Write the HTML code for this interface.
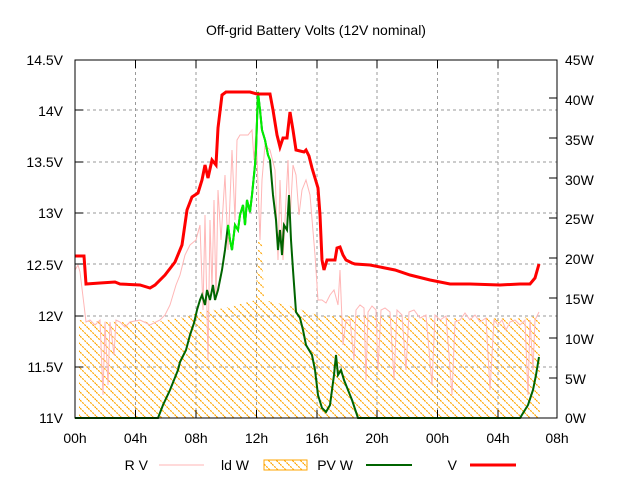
<!DOCTYPE html>
<html><head><meta charset="utf-8"><style>
html,body{margin:0;padding:0;background:#fff}
svg{display:block;font-family:"Liberation Sans",sans-serif}
</style></head><body>
<svg width="640" height="480" viewBox="0 0 640 480">
<defs>
<pattern id="h" patternUnits="userSpaceOnUse" width="8" height="8">
<path d="M-2,-2 L10,10 M-2,6 L2,10 M6,-2 L10,2" stroke="#ffa500" stroke-width="1.2" stroke-dasharray="2,1"/>
</pattern>
</defs>
<rect width="640" height="480" fill="#fff"/>
<text x="316" y="35" font-size="14" text-anchor="middle">Off-grid Battery Volts (12V nominal)</text>
<g stroke="#999" stroke-width="1" stroke-dasharray="3,3" fill="none">
<path d="M75,110H557M75,162H557M75,213H557M75,264H557M75,316H557M75,367H557"/>
<path d="M135.5,60V418M196,60V418M256.5,60V418M317,60V418M377,60V418M437.5,60V418M498,60V418"/>
</g>
<!-- Id W hatch -->
<path d="M79,418V320L90,321L120,322L160,321L180,318L200,312L225,308L256,300L258,240L262,242L264,300L290,306L320,316L360,316L400,317L440,318L480,318L520,318L540,316V418Z" fill="url(#h)"/>
<!-- R V pink -->
<polyline fill="none" stroke="#ffb6b6" stroke-width="1" points="75,270 78,265 80,272 84,305 86,322 90,320 95,325 100,320 103,395 105,322 108,385 110,322 114,355 116,320 120,322 125,327 130,322 140,320 150,325 160,320 165,315 170,305 176,285 180,275 185,255 190,245 196,240 200,225 203,310 205,215 208,360 210,220 212,290 214,200 216,300 218,190 221,240 225,175 228,250 232,150 235,220 237,140 240,135 248,135 252,130 254,160 256,130 260,240 262,180 265,145 270,150 275,170 278,260 280,180 283,260 286,200 288,160 290,220 293,165 296,175 299,215 302,190 306,180 310,195 315,255 318,300 322,300 326,303 330,295 334,290 338,305 340,270 343,345 346,320 350,320 354,360 356,310 360,305 364,308 366,380 368,312 372,306 376,310 378,370 381,310 385,308 390,312 394,380 397,310 402,315 406,370 409,312 414,310 420,318 426,315 432,385 435,315 440,320 446,316 452,395 455,322 460,320 465,313 470,320 475,315 480,322 486,318 490,390 494,320 498,325 502,320 506,330 510,322 515,320 520,325 525,320 528,395 530,320 533,370 535,320 539,312"/>
<!-- PV W green -->
<polyline fill="none" stroke="#006400" stroke-width="2" points="75,418 158,418 163,405 170,390 178,370 180,362 186,350 190,335 194,323 197,310 200,300 202,295 205,305 207,290 210,300 213,285 215,300 218,290 222,270 225,250 228,225 230,240 232,250 235,225 238,230 240,215 243,205 245,225 247,200 250,212 252,195 255,165 256,150 258,92 260,110 262,130 265,140 268,155 270,160 273,195 276,220 278,250 280,230 282,255 284,225 287,230 289,195 291,240 293,270 296,312 300,318 303,330 306,345 309,350 312,355 315,370 318,395 322,408 326,412 330,405 334,375 336,355 338,375 341,370 344,380 348,390 352,400 358,418 520,418 528,405 533,390 536,375 539,357"/>
<polyline fill="none" stroke="#00ee00" stroke-width="2" points="228,225 230,240 232,250 235,225 238,230 240,215 243,205 245,225 247,200 250,212 252,195 255,165 256,150 258,92 260,110 262,130 265,140 268,155 270,160"/>
<!-- V red -->
<polyline fill="none" stroke="#ff0000" stroke-width="3" points="75,256 84,256 86,284 100,283 115,282 120,284 140,285 150,288 155,285 165,275 175,262 182,245 187,210 192,197 198,193 202,180 205,165 208,178 212,160 216,165 218,128 222,95 226,92 250,92 257,94 270,94 273,110 277,135 280,147 283,138 287,138 290,112 293,130 296,150 304,152 306,150 309,156 312,168 315,178 318,188 320,215 322,260 324,270 327,260 335,260 337,248 340,247 343,255 346,260 352,263 355,264 370,265 385,268 395,270 410,275 430,280 450,284 470,284 500,285 520,284 530,284 535,278 539,264"/>
<!-- frame -->
<rect x="75" y="60" width="482" height="358" fill="none" stroke="#000" stroke-width="1"/>
<g stroke="#000" stroke-width="1">
<path d="M75,110h8M75,162h8M75,213h8M75,264h8M75,316h8M75,367h8"/>
<path d="M557,98h-8M557,138h-8M557,178h-8M557,218h-8M557,258h-8M557,298h-8M557,338h-8M557,378h-8"/>
<path d="M135.5,418v-8M196,418v-8M256.5,418v-8M317,418v-8M377,418v-8M437.5,418v-8M498,418v-8"/>
<path d="M135.5,60v8M196,60v8M256.5,60v8M317,60v8M377,60v8M437.5,60v8M498,60v8"/>
</g>
<g font-size="14" text-anchor="end">
<text x="63" y="65">14.5V</text><text x="63" y="116">14V</text><text x="63" y="167">13.5V</text><text x="63" y="218">13V</text><text x="63" y="270">12.5V</text><text x="63" y="321">12V</text><text x="63" y="372">11.5V</text><text x="63" y="423">11V</text>
</g>
<g font-size="14">
<text x="565" y="65">45W</text><text x="565" y="105">40W</text><text x="565" y="145">35W</text><text x="565" y="185">30W</text><text x="565" y="224">25W</text><text x="565" y="264">20W</text><text x="565" y="304">15W</text><text x="565" y="344">10W</text><text x="565" y="384">5W</text><text x="565" y="423">0W</text>
</g>
<g font-size="14" text-anchor="middle">
<text x="75" y="443">00h</text><text x="135.5" y="443">04h</text><text x="196" y="443">08h</text><text x="256.5" y="443">12h</text><text x="317" y="443">16h</text><text x="377" y="443">20h</text><text x="437.5" y="443">00h</text><text x="498" y="443">04h</text><text x="557" y="443">08h</text>
</g>
<g font-size="14" text-anchor="end">
<text x="148" y="470">R V</text><text x="249" y="470">ld W</text><text x="353" y="470">PV W</text><text x="457" y="470">V</text>
</g>
<line x1="159" y1="465" x2="204" y2="465" stroke="#ffb6b6" stroke-width="1"/>
<rect x="264" y="460" width="43" height="10" fill="url(#h)" stroke="#ffa500" stroke-width="1"/>
<line x1="366" y1="465" x2="412" y2="465" stroke="#006400" stroke-width="2"/>
<line x1="470" y1="465" x2="516" y2="465" stroke="#ff0000" stroke-width="3"/>
</svg>
</body></html>
